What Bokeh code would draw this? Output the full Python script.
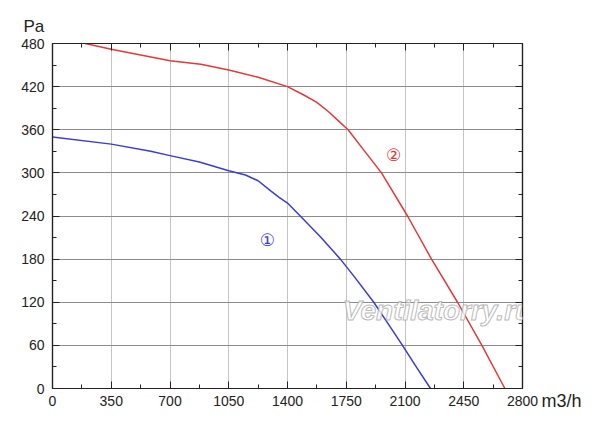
from bokeh.plotting import figure
from bokeh.models import Range1d, LinearAxis, FixedTicker, Label, Title
from bokeh.embed import file_html
from bokeh.resources import INLINE

# Fan curve 1 (blue)
q1 = [0, 350, 585, 700, 875, 1050, 1150, 1225, 1300, 1350, 1400, 1476, 1600, 1715, 1800, 1914, 2000, 2085, 2170, 2252]
p1 = [350, 340, 330, 324, 315, 303, 297, 289, 275, 266, 258, 240, 210, 180, 155, 120, 90, 60, 29, 0]

# Fan curve 2 (red)
q2 = [195, 350, 700, 884, 1050, 1225, 1400, 1500, 1575, 1650, 1700, 1761, 1850, 1960, 2115, 2258, 2413, 2558, 2695]
p2 = [480, 472, 456, 451, 443, 433, 420, 408, 398, 384, 373, 360, 333, 300, 240, 180, 120, 60, 0]

x_ticks = [0, 350, 700, 1050, 1400, 1750, 2100, 2450, 2800]
x_minor = [175, 525, 875, 1225, 1575, 1925, 2275, 2625]
y_ticks = [0, 60, 120, 180, 240, 300, 360, 420, 480]
y_minor = [30, 90, 150, 210, 270, 330, 390, 450]

FONT = "Liberation Sans"

p = figure(width=600, height=426, output_backend="svg", toolbar_location=None,
           x_range=Range1d(0, 2800), y_range=Range1d(0, 480),
           x_axis_location=None, y_axis_location=None,
           min_border_left=52, min_border_right=78, min_border_top=43, min_border_bottom=38)
p.background_fill_color = "white"
p.border_fill_color = "white"
p.outline_line_color = "#222222"
p.outline_line_width = 1.2

xt = FixedTicker(ticks=x_ticks, minor_ticks=x_minor)
yt = FixedTicker(ticks=y_ticks, minor_ticks=y_minor)

def make_axis(ticker, labels, standoff):
    ax = LinearAxis(ticker=ticker)
    ax.axis_line_color = "#222222"
    ax.axis_line_width = 1.2
    ax.major_tick_in = 7
    ax.major_tick_out = 0
    ax.minor_tick_in = 4
    ax.minor_tick_out = 0
    ax.major_tick_line_color = "#222222"
    ax.minor_tick_line_color = "#222222"
    ax.major_label_text_font = FONT
    ax.major_label_text_font_size = "14px"
    ax.major_label_text_color = "#222222"
    ax.major_label_standoff = standoff
    if not labels:
        ax.major_label_text_color = None
        ax.major_label_text_font_size = "1px"
        ax.major_label_standoff = 0
    return ax

p.add_layout(make_axis(xt, True, 7), "below")
p.add_layout(make_axis(yt, True, 8), "left")
p.add_layout(make_axis(xt, False, 0), "above")
p.add_layout(make_axis(yt, False, 0), "right")

# unit labels as titles in the side panels (not clipped to the frame)
p.add_layout(Title(text="Pa", align="left", offset=-29, standoff=16, vertical_align="bottom",
                   text_font=FONT, text_font_size="17px", text_font_style="normal",
                   text_color="#222222"), "above")
p.add_layout(Title(text="m3/h", align="right", offset=-59, standoff=-36, vertical_align="top",
                   text_font=FONT, text_font_size="18px", text_font_style="normal",
                   text_color="#222222"), "below")

p.xgrid.ticker = xt
p.ygrid.ticker = yt
p.xgrid.grid_line_color = "#c4c4c4"
p.ygrid.grid_line_color = "#8c8c8c"

p.line(q1, p1, line_color="#3b3bd6", line_width=1.5)
p.line(q2, p2, line_color="#e03a3a", line_width=1.5)

p.add_layout(Label(x=1280, y=207, text="①", text_align="center", text_baseline="middle",
                   text_font="DejaVu Sans", text_font_size="17px", text_color="#3b3bd6"))
p.add_layout(Label(x=2032, y=325, text="②", text_align="center", text_baseline="middle",
                   text_font="DejaVu Sans", text_font_size="17px", text_color="#e03a3a"))

wm = Label(x=385, y=78, x_units="screen", y_units="screen", text="Ventilatorry.ru",
           text_align="center", text_baseline="middle", level="overlay",
           text_font=FONT, text_font_style="bold italic", text_font_size="28px",
           text_color="white", text_alpha=0.8)
try:
    wm.text_outline_color = "#a8a8a8"
except Exception:
    pass
p.add_layout(wm)

open("out.html", "w").write(file_html(p, INLINE))
